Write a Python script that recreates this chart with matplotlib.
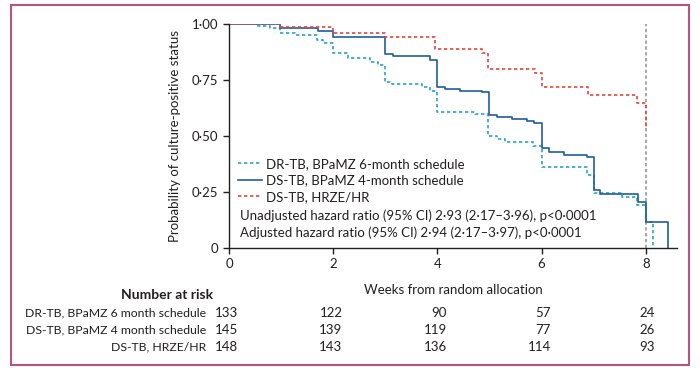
# Kaplan-Meier plot: probability of culture-positive status by arm
import matplotlib.pyplot as plt
from matplotlib.patches import Rectangle

plt.rcParams['font.family'] = ['Lato', 'DejaVu Sans']

# Step curves (weeks, survival)
dr6_t = [0, 0.56, 0.79, 0.98, 1.27, 1.69, 1.8, 2.0, 2.28, 2.7, 2.86, 3.0, 3.13, 3.7, 3.86, 4.0,
         4.72, 4.97, 5.15, 5.3, 5.83, 6.0, 6.87, 7.0, 7.55, 7.83, 8.0, 8.14]
dr6_s = [1.0, 0.99, 0.98, 0.96, 0.95, 0.93, 0.915, 0.87, 0.85, 0.83, 0.817, 0.74, 0.73, 0.72, 0.70, 0.607,
         0.60, 0.50, 0.487, 0.473, 0.455, 0.36, 0.325, 0.245, 0.228, 0.19, 0.116, 0.0]

ds4_t = [0, 0.98, 1.7, 2.0, 3.0, 3.15, 3.86, 4.0, 4.15, 4.43, 4.86, 5.0, 5.15, 5.43, 5.72, 5.85,
         6.0, 6.14, 6.43, 6.87, 7.0, 7.12, 7.85, 8.0, 8.43]
ds4_s = [1.0, 0.98, 0.97, 0.94, 0.866, 0.857, 0.84, 0.72, 0.71, 0.70, 0.697, 0.594, 0.585, 0.576, 0.567, 0.558,
         0.446, 0.43, 0.415, 0.406, 0.26, 0.24, 0.205, 0.116, 0.0]

hr_t = [0, 0.98, 2.0, 3.0, 3.95, 4.86, 4.97, 5.87, 6.0, 6.89, 7.83, 8.0]
hr_s = [1.0, 0.985, 0.96, 0.94, 0.89, 0.87, 0.80, 0.78, 0.72, 0.683, 0.647, 0.53]

arm_labels = ['DR-TB, BPaMZ 6-month schedule', 'DS-TB, BPaMZ 4-month schedule', 'DS-TB, HRZE/HR']
risk_labels = ['DR-TB, BPaMZ 6 month schedule', 'DS-TB, BPaMZ 4 month schedule', 'DS-TB, HRZE/HR']
risk_weeks = [0, 2, 4, 6, 8]
risk_dr6 = [133, 122, 90, 57, 24]
risk_ds4 = [145, 139, 119, 77, 26]
risk_hr = [148, 143, 136, 114, 93]

cyan = '#2aa6c6'
blue = '#1f5e9e'
red = '#e2473c'
dark = '#231f20'

fig = plt.figure(figsize=(7, 3.75), dpi=100)
ax = fig.add_axes([229 / 700, 127 / 375, 448 / 700, 224 / 375])

ax.step(dr6_t, dr6_s, where='post', color=cyan, lw=1.2, ls=(0, (2, 1.6)), label=arm_labels[0])
ax.step(ds4_t, ds4_s, where='post', color=blue, lw=1.2, label=arm_labels[1])
ax.step(hr_t, hr_s, where='post', color=red, lw=1.2, ls=(0, (2, 1.6)), label=arm_labels[2])
ax.axvline(8, ymin=0, ymax=1.0, color='#9a9a9a', lw=1.2, ls=(0, (2, 1.5)), zorder=0)

ax.set_xlim(0, 8.6)
ax.set_ylim(0, 1.0)
ax.set_xticks(risk_weeks)
ax.set_yticks([0, 0.25, 0.5, 0.75, 1.0])
ax.set_yticklabels(['0', '0·25', '0·50', '0·75', '1·00'])
for side in ['top', 'right']:
    ax.spines[side].set_visible(False)
for side in ['left', 'bottom']:
    ax.spines[side].set_color(dark)
    ax.spines[side].set_linewidth(1.0)
ax.tick_params(colors=dark, labelsize=9.5, length=4, width=1.0)
ax.set_ylabel('Probability of culture-positive status', fontsize=9.5, color=dark, labelpad=8)
ax.set_xlabel('Weeks from random allocation', fontsize=9.5, color=dark, labelpad=10)

leg = ax.legend(loc='lower left', bbox_to_anchor=(0.0, 0.16), frameon=False, fontsize=9.5,
                handlelength=1.8, handletextpad=0.3, labelspacing=0.35, borderaxespad=0.3)
for t in leg.get_texts():
    t.set_color(dark)
ax.text(0.025, 0.143, 'Unadjusted hazard ratio (95% CI) 2·93 (2·17–3·96), p<0·0001',
        transform=ax.transAxes, fontsize=9.5, color=dark, va='center')
ax.text(0.025, 0.067, 'Adjusted hazard ratio (95% CI) 2·94 (2·17–3·97), p<0·0001',
        transform=ax.transAxes, fontsize=9.5, color=dark, va='center')

# Number at risk table
fig.text(213 / 700, 1 - 295 / 375, 'Number at risk', ha='right', va='center',
         fontsize=10, fontweight='bold', color=dark)
row_y = [313, 330, 347]
for label, counts, py in zip(risk_labels, [risk_dr6, risk_ds4, risk_hr], row_y):
    fig.text(206 / 700, 1 - py / 375, label, ha='right', va='center', fontsize=8.8, color=dark)
    for w, n in zip(risk_weeks, counts):
        xf = ax.transData.transform((w + 0.18, 0))[0] / fig.bbox.width
        fig.text(xf, 1 - py / 375, str(n), ha='right', va='center', fontsize=9.5, color=dark)

fig.patches.append(Rectangle((11 / 700, 1 - 365 / 375), 678 / 700, 360 / 375, transform=fig.transFigure,
                             fill=False, edgecolor='#b8557f', lw=1.5))

fig.savefig('out.png', dpi=100)
